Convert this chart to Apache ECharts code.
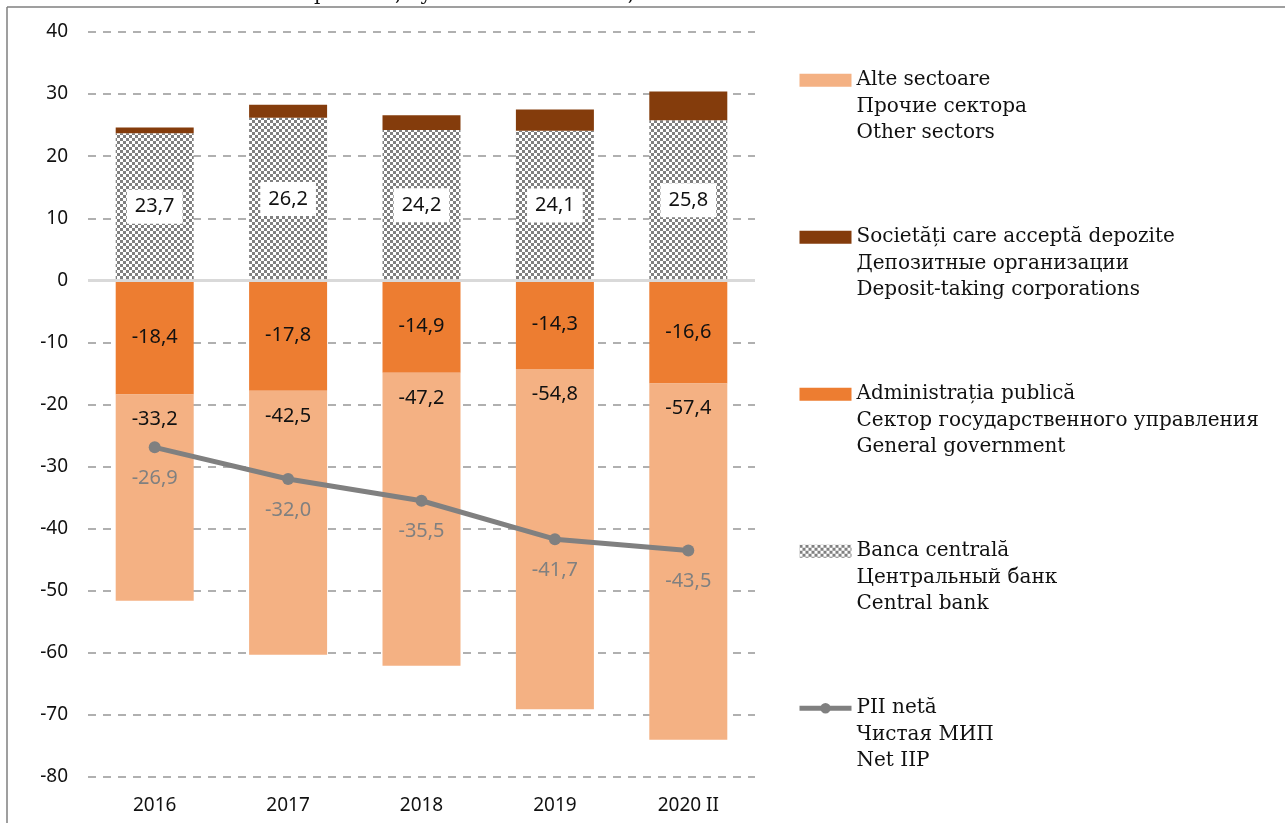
<!DOCTYPE html>
<html>
<head>
<meta charset="utf-8">
<script src="https://cdn.jsdelivr.net/npm/echarts@6/dist/echarts.min.js"></script>
<style>
  html, body { margin: 0; padding: 0; background: #fff; }
  #chart { width: 1285px; height: 823px; }
</style>
</head>
<body>
<div id="chart"></div>
<script>
// categories
var years = ['2016', '2017', '2018', '2019', '2020 II'];
// series values (% of GDP)
var otherSectors = [-33.2, -42.5, -47.2, -54.8, -57.4];
var depositTaking = [0.9, 2.1, 2.4, 3.4, 4.6];
var generalGov = [-18.4, -17.8, -14.9, -14.3, -16.6];
var centralBank = [23.7, 26.2, 24.2, 24.1, 25.8];
var netIIP = [-26.9, -32.0, -35.5, -41.7, -43.5];
// legend names (three languages)
var names = {
  other: 'Alte sectoare\nПрочие сектора\nOther sectors',
  deposit: 'Societăți care acceptă depozite\nДепозитные организации\nDeposit-taking corporations',
  gov: 'Administrația publică\nСектор государственного управления\nGeneral government',
  cb: 'Banca centrală\nЦентральный банк\nCentral bank',
  iip: 'PII netă\nЧистая МИП\nNet IIP'
};

var fmt = function (p) { return p.value.toFixed(1).replace('.', ','); };

// checkered pattern for central bank
var pat = document.createElement('canvas');
pat.width = 6; pat.height = 6;
var ctx = pat.getContext('2d');
ctx.fillStyle = '#ffffff'; ctx.fillRect(0, 0, 6, 6);
ctx.fillStyle = '#808080';
ctx.fillRect(0, 0, 3, 3); ctx.fillRect(3, 3, 3, 3);

var sans = '"Noto Sans", sans-serif';
var serif = '"DejaVu Serif", serif';
var LH = 26.5;

var myChart = echarts.init(document.getElementById('chart'));
var option = {
  animation: false,
  graphic: [
    { type: 'line', shape: { x1: 7, y1: 7, x2: 1285, y2: 7 }, style: { stroke: '#7f7f7f', lineWidth: 1.5 } },
    { type: 'line', shape: { x1: 7, y1: 7, x2: 7, y2: 823 }, style: { stroke: '#7f7f7f', lineWidth: 1.5 } },
    { type: 'text', left: 14, top: -15, style: { text: 'Net international investment position, by institutional sector, % of GDP', fontFamily: serif, fontSize: 20, fill: '#111' } }
  ],
  grid: { left: 88, right: 530, top: 32, bottom: 46 },
  legend: {
    orient: 'vertical',
    left: 797,
    top: 72 - 2 * LH - 5,
    padding: 0,
    itemWidth: 52,
    itemHeight: 13,
    itemGap: 157 - 5 * LH,
    data: [
      { name: names.other, icon: 'rect' },
      { name: names.deposit, icon: 'rect' },
      { name: names.gov, icon: 'rect' },
      { name: names.cb, icon: 'rect' },
      { name: names.iip }
    ],
    formatter: function (n) { return '\n\n' + n; },
    lineStyle: { width: 5 },
    textStyle: { fontFamily: serif, fontSize: 20, color: '#111', lineHeight: LH }
  },
  xAxis: {
    type: 'category',
    data: years,
    axisLine: { show: false },
    axisTick: { show: false },
    axisLabel: { fontFamily: sans, fontSize: 19, color: '#111', margin: 19 }
  },
  yAxis: {
    type: 'value',
    min: -80, max: 40, interval: 10,
    axisLine: { show: false },
    axisTick: { show: false },
    axisLabel: { fontFamily: sans, fontSize: 19, color: '#111', margin: 20 },
    splitLine: { lineStyle: { color: '#b0b0b0', type: [8, 7], width: 2 } }
  },
  series: [
    {
      name: names.gov, type: 'bar', stack: 'a', barWidth: 78, data: generalGov,
      itemStyle: { color: '#ED7D31' },
      label: { show: true, position: 'inside', formatter: fmt, fontFamily: sans, fontSize: 20, color: '#111' }
    },
    {
      name: names.other, type: 'bar', stack: 'a', data: otherSectors,
      itemStyle: { color: '#F4B183' },
      label: { show: true, position: 'insideTop', distance: 15, formatter: fmt, fontFamily: sans, fontSize: 20, color: '#111' }
    },
    {
      name: names.cb, type: 'bar', stack: 'a', data: centralBank,
      itemStyle: { color: { image: pat, repeat: 'repeat' } },
      label: { show: true, position: 'inside', formatter: fmt, fontFamily: sans, fontSize: 20, color: '#111', backgroundColor: '#fff', padding: [8, 8, 6, 8] }
    },
    {
      name: names.deposit, type: 'bar', stack: 'a', data: depositTaking,
      itemStyle: { color: '#843C0C' }
    },
    {
      name: names.iip, type: 'line', data: netIIP, z: 5,
      symbol: 'circle', symbolSize: 12,
      lineStyle: { color: '#808080', width: 5 },
      itemStyle: { color: '#808080' },
      label: { show: true, position: 'bottom', distance: 15, formatter: fmt, fontFamily: sans, fontSize: 20, color: '#808080' },
      markLine: { silent: true, symbol: 'none', label: { show: false }, lineStyle: { color: '#d9d9d9', type: 'solid', width: 3 }, data: [{ yAxis: 0 }] }
    }
  ]
};
myChart.setOption(option);
</script>
</body>
</html>
